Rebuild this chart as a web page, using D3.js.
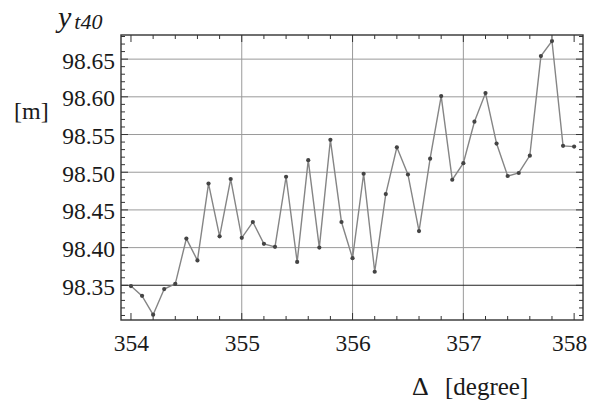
<!DOCTYPE html>
<html>
<head>
<meta charset="utf-8">
<script src="https://cdn.jsdelivr.net/npm/d3@7"></script>
<style>
  html, body { margin: 0; padding: 0; background: #fff; }
</style>
</head>
<body>
<svg id="chart" width="589" height="403"></svg>
<script>
// Offset angle Δ in degrees, sampled every 0.1°
const deltaDeg = [
  354.0, 354.1, 354.2, 354.3, 354.4, 354.5, 354.6, 354.7, 354.8, 354.9,
  355.0, 355.1, 355.2, 355.3, 355.4, 355.5, 355.6, 355.7, 355.8, 355.9,
  356.0, 356.1, 356.2, 356.3, 356.4, 356.5, 356.6, 356.7, 356.8, 356.9,
  357.0, 357.1, 357.2, 357.3, 357.4, 357.5, 357.6, 357.7, 357.8, 357.9,
  358.0
];
// y_t40 position in metres
const yT40 = [
  98.349, 98.336, 98.311, 98.345, 98.352, 98.412, 98.383, 98.485, 98.415, 98.491,
  98.413, 98.434, 98.405, 98.401, 98.494, 98.381, 98.516, 98.400, 98.543, 98.434,
  98.386, 98.498, 98.368, 98.471, 98.533, 98.497, 98.422, 98.518, 98.601, 98.490,
  98.512, 98.567, 98.605, 98.538, 98.495, 98.499, 98.522, 98.654, 98.674, 98.535,
  98.534
];
const xTickLabels = [354, 355, 356, 357, 358];
const yTickLabels = [98.35, 98.40, 98.45, 98.50, 98.55, 98.60, 98.65];
const xGrid = [355, 356, 357];
const yGrid = [98.40, 98.45, 98.50, 98.55, 98.60, 98.65];
const referenceLevel = 98.35;

const SERIF = '"Liberation Serif"';
const INK = "#1a1a1a";

const svg = d3.select("#chart");
const L = 121, R = 583, T = 35, B = 320;

const x = d3.scaleLinear().domain([353.91, 358.08]).range([L, R]);
const y = d3.scaleLinear().domain([98.304, 98.682]).range([B, T]);

// grid
const grid = svg.append("g");
grid.selectAll("line.vg").data(xGrid).join("line")
  .attr("x1", d => x(d)).attr("x2", d => x(d))
  .attr("y1", T).attr("y2", B)
  .attr("stroke", "#9a9a9a").attr("stroke-width", 1);
grid.selectAll("line.hg").data(yGrid).join("line")
  .attr("x1", L).attr("x2", R)
  .attr("y1", d => y(d)).attr("y2", d => y(d))
  .attr("stroke", "#9a9a9a").attr("stroke-width", 1);
grid.append("line")
  .attr("x1", L).attr("x2", R)
  .attr("y1", y(referenceLevel)).attr("y2", y(referenceLevel))
  .attr("stroke", "#222").attr("stroke-width", 1.1);

// inward ticks on all four sides
const ticks = svg.append("g").attr("stroke", "#333").attr("stroke-width", 1);
const yMinor = d3.range(98.31, 98.681, 0.01).map(v => +v.toFixed(2));
yMinor.forEach(v => {
  const major = Math.abs(Math.round(v * 20) - v * 20) < 1e-6;
  const len = major ? 7 : 4;
  ticks.append("line").attr("x1", L).attr("x2", L + len).attr("y1", y(v)).attr("y2", y(v));
  ticks.append("line").attr("x1", R).attr("x2", R - len).attr("y1", y(v)).attr("y2", y(v));
});
const xMinor = d3.range(354.0, 358.01, 0.2).map(v => +v.toFixed(1));
xMinor.forEach(v => {
  const major = Math.abs(v - Math.round(v)) < 1e-6;
  const len = major ? 7 : 4;
  ticks.append("line").attr("x1", x(v)).attr("x2", x(v)).attr("y1", B).attr("y2", B - len);
  ticks.append("line").attr("x1", x(v)).attr("x2", x(v)).attr("y1", T).attr("y2", T + len);
});

// frame
svg.append("rect").attr("x", L).attr("y", T).attr("width", R - L).attr("height", B - T)
  .attr("fill", "none").attr("stroke", "#333").attr("stroke-width", 1.4);

// tick labels via axes (tick marks are drawn above)
const xAxis = svg.append("g").attr("transform", `translate(0,${B})`)
  .call(d3.axisBottom(x).tickValues(xTickLabels).tickSize(0).tickPadding(26).tickFormat(d3.format("d")));
const yAxis = svg.append("g").attr("transform", `translate(${L},0)`)
  .call(d3.axisLeft(y).tickValues(yTickLabels).tickSize(0).tickPadding(6).tickFormat(d3.format(".2f")));
[xAxis, yAxis].forEach(a => {
  a.select(".domain").remove();
  a.attr("font-family", null).attr("font-size", null);
  a.selectAll("text").style("font-family", SERIF)
    .style("font-size", "23.5px").style("fill", INK);
});
xAxis.selectAll("text").attr("dy", "0.2em");
// keep the last label inside the page edge
xAxis.selectAll("text").filter(d => d === 358).attr("dx", -5);
yAxis.selectAll("text").attr("dy", "0.38em");

// data line and points
const pts = deltaDeg.map((d, i) => [d, yT40[i]]);
svg.append("path").datum(pts)
  .attr("fill", "none").attr("stroke", "#858585").attr("stroke-width", 1.4)
  .attr("d", d3.line().x(d => x(d[0])).y(d => y(d[1])));
svg.append("g").selectAll("circle").data(pts).join("circle")
  .attr("cx", d => x(d[0])).attr("cy", d => y(d[1])).attr("r", 2.1)
  .attr("fill", "#444");

// axis titles
function label(xp, yp, size) {
  return svg.append("text").attr("x", xp).attr("y", yp)
    .style("font-family", SERIF).style("font-size", size + "px").style("fill", INK);
}
const yt = label(58, 27, 30);
yt.append("tspan").style("font-style", "italic").text("y");
yt.append("tspan").style("font-style", "italic").style("font-size", "22px")
  .attr("dx", 3).attr("dy", 2).text("t40");

label(14, 119, 24).text("[m]");
label(412, 395, 26).text("Δ");
label(445, 395, 25).text("[degree]");
</script>
</body>
</html>
